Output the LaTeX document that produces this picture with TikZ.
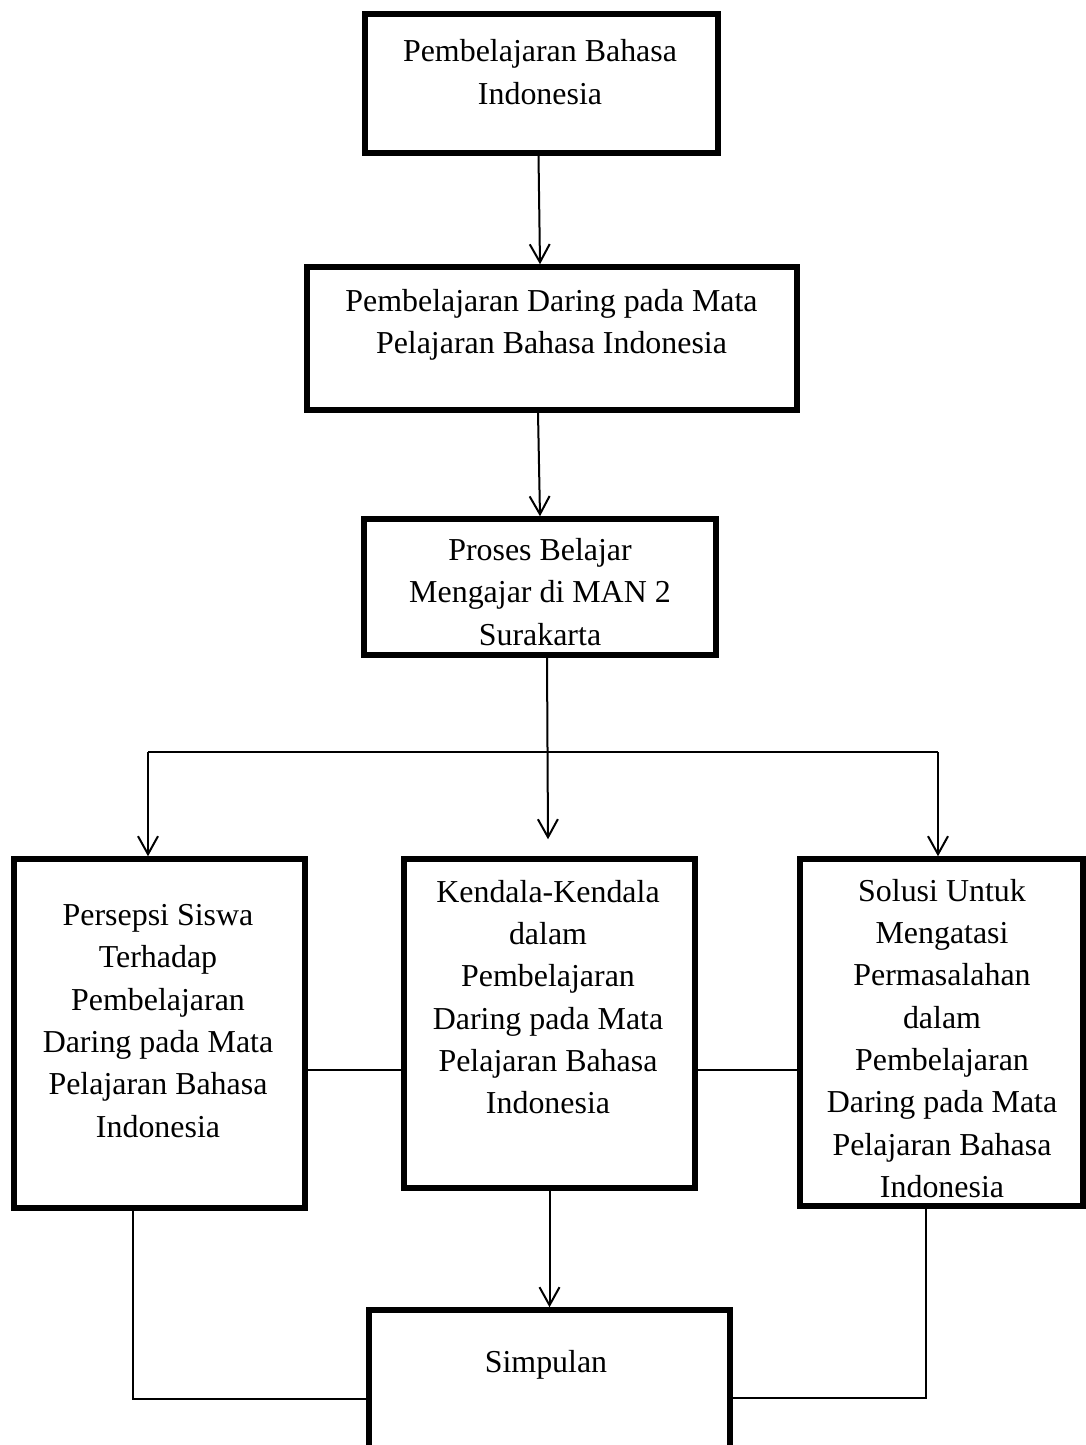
\documentclass[tikz,border=0pt]{standalone}
\usepackage{fontspec}
\setmainfont{Liberation Serif}
\usetikzlibrary{arrows.meta}
\newdimen\pix \pix=0.025cm

\begin{document}
\begin{tikzpicture}[x=0.025cm, y=-0.025cm,
    kotak/.style={draw, line width=5.5\pix, rectangle, inner sep=0pt},
    isi/.style={align=center, inner sep=0pt, font=\fontsize{22.7}{30.1}\selectfont},
    garis/.style={line width=2\pix},
    panah/.style={garis, -{Straight Barb[length=12.8pt, width=14.2pt]}}]

    \useasboundingbox (0,0) rectangle (1085,1445);

    % Kotak-kotak
    \node[kotak, minimum width=353\pix, minimum height=139\pix] (bahasa) at (541.5,83.5) {};
    \node[kotak, minimum width=490\pix, minimum height=143\pix] (daring) at (552,338.5) {};
    \node[kotak, minimum width=352\pix, minimum height=136\pix] (proses) at (540,587) {};
    \node[kotak, minimum width=291\pix, minimum height=349\pix] (persepsi) at (159.5,1033.5) {};
    \node[kotak, minimum width=291\pix, minimum height=329\pix] (kendala) at (549.5,1023.5) {};
    \node[kotak, minimum width=283\pix, minimum height=347\pix] (solusi) at (941.5,1032.5) {};
    \node[kotak, minimum width=361\pix, minimum height=150\pix] (simpulan) at (549.5,1385) {};

    % Teks
    \node[isi] (tbahasa) at (540,72) {Pembelajaran Bahasa\\Indonesia};
    \node[isi] (tdaring) at (551.5,325) {Pembelajaran Daring pada Mata\\Pelajaran Bahasa Indonesia};
    \node[isi] (tproses) at (540,592) {Proses Belajar\\Mengajar di MAN 2\\Surakarta};
    \node[isi] (tpersepsi) at (158,1021) {Persepsi Siswa\\Terhadap\\Pembelajaran\\Daring pada Mata\\Pelajaran Bahasa\\Indonesia};
    \node[isi] (tkendala) at (548,997) {Kendala-Kendala\\dalam\\Pembelajaran\\Daring pada Mata\\Pelajaran Bahasa\\Indonesia};
    \node[isi] (tsolusi) at (942,1038.5) {Solusi Untuk\\Mengatasi\\Permasalahan\\dalam\\Pembelajaran\\Daring pada Mata\\Pelajaran Bahasa\\Indonesia};
    \node[isi] (tsimpulan) at (546,1365) {Simpulan};

    % Titik bantu
    \coordinate (kiri) at (148,752);
    \coordinate (kanan) at (938,752);
    \coordinate (tengah) at (0,1070);
    \coordinate (sudutkiri) at (133,1399);
    \coordinate (sudutkanan) at (926,1398);

    % Panah alur utama
    \draw[panah] ([xshift=-3\pix]bahasa.south) -- ([xshift=-12\pix]daring.north);
    \draw[panah] ([xshift=-14\pix]daring.south) -- (proses.north);
    \draw[panah] ([xshift=7\pix]proses.south) -- ([xshift=-1.5\pix, yshift=17\pix]kendala.north);

    % Cabang
    \draw[garis] (kiri) -- (kanan);
    \draw[panah] (kiri) -- (persepsi.north -| kiri);
    \draw[panah] (kanan) -- (solusi.north -| kanan);

    % Penghubung antar kotak
    \draw[garis] (persepsi.east |- tengah) -- (kendala.west |- tengah);
    \draw[garis] (kendala.east |- tengah) -- (solusi.west |- tengah);
    \draw[panah] (kendala.south) -- (simpulan.north);
    \draw[garis] (persepsi.south -| sudutkiri) -- (sudutkiri) -- (simpulan.west |- sudutkiri);
    \draw[garis] (solusi.south -| sudutkanan) -- (sudutkanan) -- (simpulan.east |- sudutkanan);

\end{tikzpicture}
\end{document}
